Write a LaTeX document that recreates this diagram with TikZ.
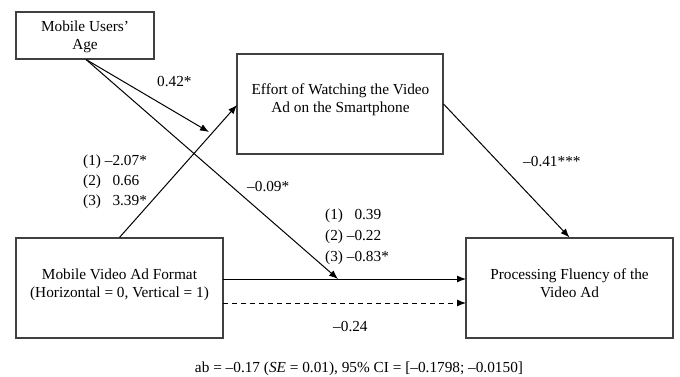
\documentclass[tikz,border=0pt]{standalone}
\usepackage{fontspec}
\setmainfont{Liberation Serif}
\usetikzlibrary{arrows.meta,calc}
\begin{document}
\begin{tikzpicture}[x=1pt,y=-1pt,
  box/.style={draw=black!75,line width=1.1pt,rectangle,inner sep=0pt,minimum width=207pt,minimum height=100pt},
  txt/.style={inner sep=0pt,align=center,font=\fontsize{15.3}{18}\selectfont},
  lab/.style={inner sep=0pt,anchor=base west,font=\fontsize{15.3}{18}\selectfont},
  arr/.style={draw=black,line width=1pt,-{Latex[length=9pt,width=7pt]}}]
\useasboundingbox (0,0) rectangle (680,377);
% boxes
\node[box,minimum width=138pt,minimum height=47pt] (age) at (85,35.5) {};
\node[box,minimum width=206pt] (eff) at (340,104) {};
\node[box] (fmt) at (119.5,288) {};
\node[box] (proc) at (569.5,288) {};
% box texts
\node[txt] (aget) at (85,37.4) {\strut Mobile Users'\\\strut Age};
\node[txt] (efft) at (340.5,100.4) {\strut Effort of Watching the Video\\\strut Ad on the Smartphone};
\node[txt] (fmtt) at (119.5,284.4) {\strut Mobile Video Ad Format\\\strut (Horizontal = 0, Vertical = 1)};
\node[txt] (proct) at (569.5,284.4) {\strut Processing Fluency of the\\\strut Video Ad};
% connectors
\coordinate (agebot) at (86,59.5);
\coordinate (t1) at (209,132);
\coordinate (t2) at (338,279);
\coordinate (fr1) at (223,279);
\coordinate (pr1) at (466,279);
\coordinate (fr2) at (223,303);
\coordinate (pr2) at (466,303);
\draw[arr] (fmt.north) -- (237,105) coordinate (effin);
\draw[arr] (agebot) -- (t1);
\draw[arr] (agebot) -- (t2);
\draw[arr] (eff.east) -- (proc.north);
\draw[arr] (fr1) -- (pr1);
\draw[arr,dash pattern=on 5pt off 4pt] (fr2) -- (pr2);
% labels
\node[lab] (l042) at (157,87) {0.42*};
\node[lab] (la1) at (83,165) {(1) –2.07*};
\node[lab] (la2) at (83,185) {(2) \phantom{–}0.66};
\node[lab] (la3) at (83,205) {(3) \phantom{–}3.39*};
\node[lab] (l009) at (247,191) {–0.09*};
\node[lab] (lb1) at (325,219) {(1) \phantom{–}0.39};
\node[lab] (lb2) at (325,240) {(2) –0.22};
\node[lab] (lb3) at (325,261) {(3) –0.83*};
\node[lab] (l041) at (523,166) {–0.41***};
\node[lab] (l024) at (333,331) {–0.24};
\node[inner sep=0pt,anchor=base,font=\fontsize{15.3}{18}\selectfont] (ab) at (359,372) {ab = –0.17 (\textit{SE} = 0.01), 95\% CI = [–0.1798; –0.0150]};
\end{tikzpicture}
\end{document}
